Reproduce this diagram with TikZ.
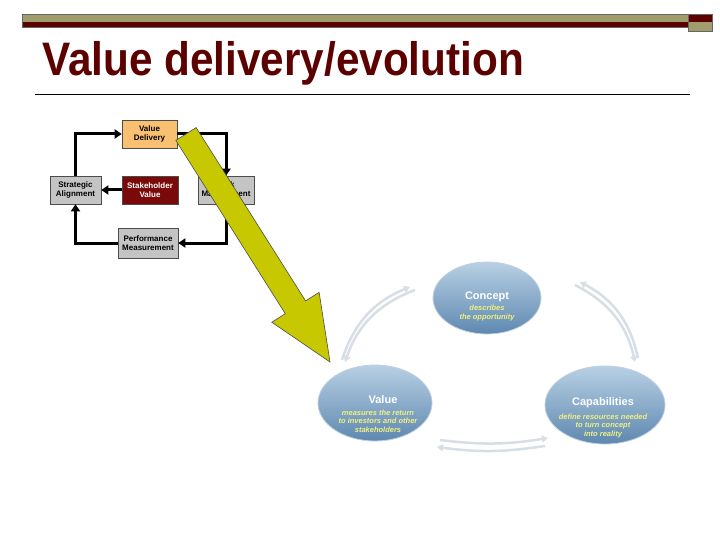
\documentclass[tikz,border=0pt]{standalone}
\usepackage{fontspec}
\setmainfont{Liberation Sans}
\usetikzlibrary{calc,arrows.meta,shapes.geometric}
\definecolor{tan}{HTML}{A09C6C}
\definecolor{dred}{HTML}{5C0000}
\definecolor{sred}{HTML}{7A0A0A}
\definecolor{orng}{HTML}{F8C070}
\definecolor{gbox}{HTML}{C4C4C4}
\definecolor{ylw}{HTML}{C8C800}
\definecolor{eltop}{HTML}{B8D0E4}
\definecolor{elbot}{HTML}{5E88B0}
\definecolor{arcg}{HTML}{D8DEE6}
\definecolor{ytxt}{HTML}{F0F080}
\tikzset{
 sbox/.style={draw=black!70,line width=0.6pt,minimum width=#1,minimum height=28pt,inner sep=1pt,align=center,font=\fontsize{8}{8.5}\selectfont\bfseries},
 sbox/.default=55pt,
 flow/.style={line width=3pt,-{Triangle[length=7pt,width=9pt]}},
 ell/.style={ellipse,draw=white!60!elbot,line width=0.8pt,top color=eltop,bottom color=elbot,align=center,inner sep=0pt},
 etitle/.style={font=\fontsize{11}{12}\selectfont\bfseries,text=white},
 esub/.style={font=\fontsize{7.5}{8.5}\selectfont\bfseries\itshape,text=ytxt},
 garc/.style={line width=2.5pt,draw=arcg,-{Triangle[length=6pt,width=7pt]}}
}
\begin{document}
\begin{tikzpicture}[x=1pt,y=-1pt]
\useasboundingbox[fill=white] (0,0) rectangle (720,540);
% header
\fill[tan] (22,14) rectangle (688,22);
\fill[dred] (22,22) rectangle (688,27);
\draw[black!60,line width=0.4pt] (22,14) rectangle (688,27);
\fill[dred] (688,14) rectangle (712,22);
\fill[tan] (688,22) rectangle (712,31);
\draw[black!60,line width=0.4pt] (688,14) rectangle (712,31);
\node[anchor=base west,inner sep=0pt,text=dred,font=\fontsize{47}{47}\selectfont\bfseries,xscale=0.9] (title) at (42,76) {Value delivery/evolution};
\draw[line width=0.6pt] (35,94) -- (690,94);
% small diagram
\node[sbox,fill=orng] (vd) at (149.5,134) {Value\\Delivery};
\node[sbox=51pt,fill=gbox] (sa) at (75.5,190) {Strategic\\Alignment};
\node[sbox=56pt,fill=sred,text=white] (sv) at (150,190) {Stakeholder\\Value};
\node[sbox=56pt,fill=gbox] (rm) at (226,190) {Risk\\Management};
\node[sbox=60pt,minimum height=30pt,fill=gbox] (pm) at (148,243) {Performance\\Measurement};
\draw[flow] (sa.north) |- (vd.west);
\draw[flow] (vd.east) -| (rm.north);
\draw[flow] (rm.south) |- (pm.east);
\draw[flow] (pm.west) -| (sa.south);
\draw[flow] (sv.west) -- (sa.east);
% yellow arrow
\coordinate (S) at (186,134);
\coordinate (T) at (330,362);
\coordinate (B) at ($(S)!0.76!(T)$);
\fill[ylw,draw=black!70,line width=0.6pt]
 ($(S)!12pt!90:(T)$) -- ($(B)!12pt!-90:(S)$) -- ($(B)!28pt!-90:(S)$) -- (T)
 -- ($(B)!28pt!90:(S)$) -- ($(B)!12pt!90:(S)$) -- ($(S)!12pt!-90:(T)$) -- cycle;
% cycle
\draw[garc] (415,290) to[bend right=25] (345,362);
\draw[garc] (342,360) to[bend left=25] (410,287);
\draw[garc] (575,285) to[bend left=25] (635,362);
\draw[garc] (638,358) to[bend right=25] (580,282);
\draw[garc] (440,440) to[bend right=8] (548,438);
\draw[garc] (545,446) to[bend left=8] (437,447);
\node[ell,minimum width=108pt,minimum height=72pt] (con) at (487,298) {};
\node[ell,minimum width=114pt,minimum height=76pt] (val) at (375,403) {};
\node[ell,minimum width=120pt,minimum height=78pt] (cap) at (605,405) {};
\node[etitle] (cont) at (487,297) {Concept};
\node[esub,align=center] (cons) at (487,313) {describes\\the opportunity};
\node[etitle] (valt) at (383,400) {Value};
\node[esub,align=center] (vals) at (378,421) {measures the return\\to investors and other\\stakeholders};
\node[etitle] (capt) at (603,403) {Capabilities};
\node[esub,align=center] (caps) at (603,426) {define resources needed\\to turn concept\\into reality};
\end{tikzpicture}
\end{document}
